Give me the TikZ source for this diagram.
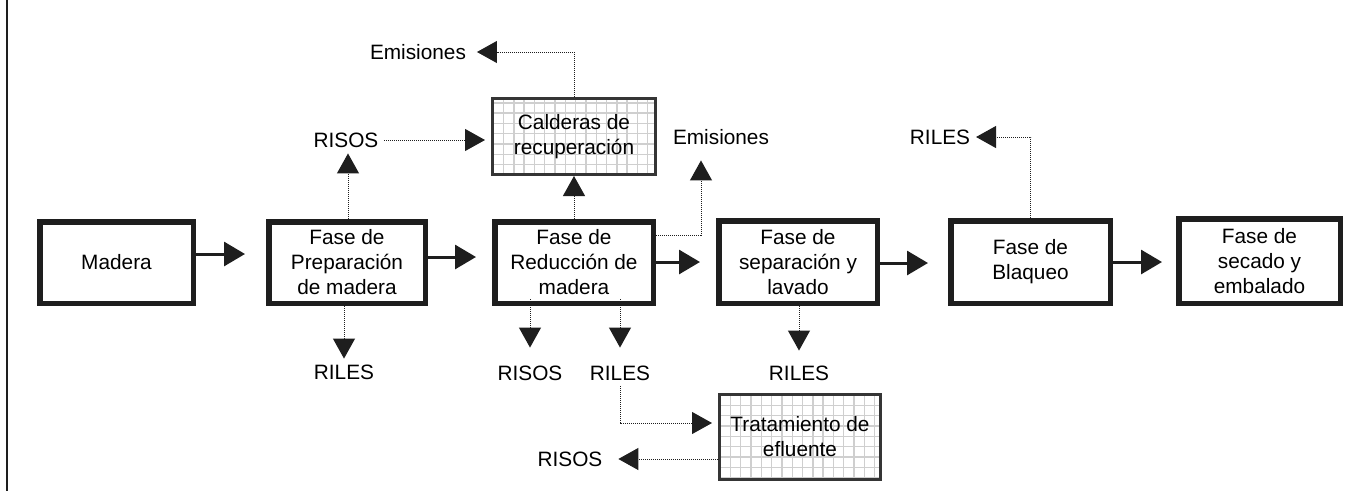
\documentclass[tikz,border=0pt]{standalone}
\usepackage{fontspec}
\setmainfont{Liberation Sans}
\usetikzlibrary{arrows.meta,calc}
\definecolor{ink}{HTML}{1E1E1E}
\definecolor{gridgray}{HTML}{CFCFCF}
\tikzset{
  txt/.style={font=\fontsize{20.8}{25}\selectfont},
  mainbox/.style={txt, draw=ink, line width=5.5pt, fill=white, align=center, inner sep=0pt},
  gridbox/.style={txt, draw=ink!90, line width=3pt, fill=white, align=center, inner sep=0pt,
    path picture={\draw[gridgray, line width=1.4pt] (path picture bounding box.south west) grid[step=10.3pt] (path picture bounding box.north east);}},
  lbl/.style={txt, inner sep=0pt, outer sep=6pt, text height=14.9pt, text depth=0pt},
  flow/.style={draw=ink, line width=3pt, -{Triangle[length=21pt,width=24pt]}},
  dotflow/.style={draw=ink, line width=1pt, dash pattern=on 1pt off 1pt, -{Triangle[length=20pt,width=22pt]}},
}
\begin{document}
\begin{tikzpicture}[x=1pt,y=-1pt]
\useasboundingbox (0,0) rectangle (1361,491);
\fill[white] (0,0) rectangle (1361,491);
\draw[ink, line width=2pt] (7,0) -- (7,491);

% main process boxes
\node[mainbox, minimum width=153.5pt, minimum height=81.5pt] (madera) at (116.5,262.5) {Madera};
\node[mainbox, minimum width=156.5pt, minimum height=81.5pt] (prep) at (347,262.5) {Fase de\\Preparación\\de madera};
\node[mainbox, minimum width=158.5pt, minimum height=81.5pt] (red) at (574,262.5) {Fase de\\Reducción de\\madera};
\node[mainbox, minimum width=158.5pt, minimum height=82.5pt] (sep) at (798,262) {Fase de\\separación y\\lavado};
\node[mainbox, minimum width=159.5pt, minimum height=82.5pt] (blaq) at (1030.5,262) {Fase de\\Blaqueo};
\node[mainbox, minimum width=161.5pt, minimum height=84.5pt] (sec) at (1259.5,261) {Fase de\\secado y\\embalado};

% grid boxes
\node[gridbox, minimum width=163pt, minimum height=76pt] (cald) at (574,136.5) {Calderas de\\recuperación};
\node[gridbox, minimum width=161pt, minimum height=85pt] (trat) at (800,437) {Tratamiento de\\efluente};

% labels
\node[lbl, outer sep=11pt] (emis1) at (418,52) {Emisiones};
\node[lbl] (risos1) at (346,140) {RISOS};
\node[lbl] (emis2) at (721,137) {Emisiones};
\node[lbl] (riles4) at (940,137) {RILES};
\node[lbl] (riles1) at (344,372) {RILES};
\node[lbl] (risos2) at (530,373) {RISOS};
\node[lbl] (riles2) at (620,373) {RILES};
\node[lbl] (riles3) at (799,373) {RILES};
\node[lbl] (risos3) at (570,459) {RISOS};

% solid flow arrows
\draw[flow, shorten >=21pt] (madera.east |- 0,254) -- (prep.west |- 0,254);
\draw[flow, shorten >=16pt] (prep.east |- 0,257) -- (red.west |- 0,257);
\draw[flow, shorten >=16pt] (red.east |- 0,262) -- (sep.west |- 0,262);
\draw[flow, shorten >=20pt] (sep.east |- 0,263) -- (blaq.west |- 0,263);
\draw[flow, shorten >=14pt] (blaq.east |- 0,262) -- (sec.west |- 0,262);

% dotted secondary flows
\draw[dotflow] (prep.north -| 348,0) -- (risos1.south -| 348,0);
\draw[dotflow, shorten >=6pt] (risos1.east) -- (cald.west |- risos1.east);
\draw[dotflow] (cald.north) |- (emis1.east);
\draw[dotflow] (red.north) -- (cald.south);
\draw[dotflow, shorten >=10pt] (red.east |- 0,235) -| ([xshift=-20pt]emis2.south);
\draw[dotflow] (blaq.north) |- (riles4.east);
\draw[dotflow] (prep.south -| riles1.north) -- (riles1.north);
\draw[dotflow, shorten >=12pt] ($(red.south -| risos2)+(0,-7)$) -- (risos2.north);
\draw[dotflow, shorten >=12pt] ($(red.south -| riles2)+(0,-7)$) -- (riles2.north);
\draw[dotflow, shorten >=6pt] (riles2.south) |- (trat.west |- 0,423);
\draw[dotflow, shorten >=10pt] (trat.west |- risos3.east) -- (risos3.east);
\draw[dotflow, shorten >=9pt] (sep.south -| riles3) -- (riles3.north);
\end{tikzpicture}
\end{document}
